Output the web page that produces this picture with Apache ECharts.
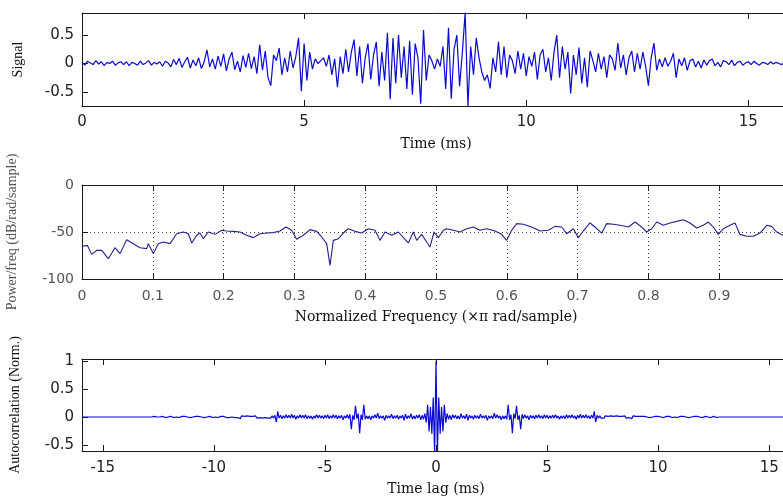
<!DOCTYPE html>
<html><head><meta charset="utf-8">
<script src="https://cdn.jsdelivr.net/npm/echarts@6/dist/echarts.min.js"></script>
<style>html,body{margin:0;padding:0;background:#fff}#c{width:783px;height:499px}</style>
</head><body><div id="c"></div>
<script>
// ---- Data ----
const signalTimeStepMs = 0.0625;
const signalValues = [
 0.02,-0.03,0.04,0.01,-0.02,0.05,-0.01,0.03,-0.04,0.02,0.00,0.04,-0.03,0.01,0.03,-0.02,
 0.03,-0.04,0.02,0.00,-0.03,0.04,-0.02,0.01,0.05,-0.03,0.02,-0.01,0.03,-0.05,0.04,0.01,
 -0.06,0.07,-0.02,0.09,-0.07,0.03,0.11,-0.08,0.06,-0.04,0.10,-0.09,0.03,0.24,-0.06,0.08,
 -0.10,0.13,-0.05,0.17,-0.13,0.08,0.20,-0.11,0.04,-0.15,0.14,-0.07,0.18,-0.09,0.12,-0.18,
 0.33,-0.12,0.22,-0.25,-0.39,0.15,0.05,0.27,-0.20,0.10,-0.15,0.22,-0.08,0.12,0.45,-0.49,
 0.35,-0.30,0.20,-0.10,0.08,0.00,0.05,0.10,-0.05,0.15,-0.20,0.08,-0.42,0.12,-0.18,0.25,
 -0.15,0.20,0.42,-0.22,0.30,-0.35,0.10,0.35,-0.28,0.15,0.38,-0.40,0.20,-0.30,0.54,-0.63,
 0.45,-0.35,0.50,-0.25,0.30,-0.45,0.40,-0.55,0.35,0.10,-0.71,0.59,-0.30,0.15,0.05,-0.10,
 0.08,-0.05,0.30,-0.45,0.63,-0.62,0.25,0.50,-0.40,0.20,0.90,-0.75,0.30,-0.20,0.45,0.10,
 -0.15,-0.30,-0.20,-0.44,0.10,-0.15,0.38,-0.20,0.30,-0.25,0.15,0.05,-0.18,0.22,-0.10,0.18,
 -0.22,0.12,-0.05,0.20,-0.28,0.15,0.25,-0.15,0.10,-0.30,0.20,0.50,-0.25,0.30,-0.10,0.20,
 -0.53,0.15,-0.20,0.28,-0.35,0.10,-0.42,0.22,0.05,-0.15,0.18,-0.10,0.12,-0.25,0.15,0.08,
 -0.12,0.36,-0.08,0.15,-0.20,0.10,0.22,-0.15,0.18,-0.10,0.20,-0.05,-0.39,0.10,0.36,-0.12,
 0.08,-0.06,0.10,-0.05,0.04,0.18,-0.25,0.08,-0.04,0.10,-0.12,0.05,0.08,-0.06,0.04,-0.08,
 0.06,-0.03,0.05,0.08,-0.04,0.02,-0.06,0.05,0.03,-0.02,0.06,-0.04,0.02,0.04,-0.03,0.01,
 0.03,-0.02,0.04,0.00,-0.03,0.02,0.01,-0.02,0.03,-0.01,0.02,0.00,-0.02,0.03,0.01,0.00
];

const psdFreq = [
 0,0.0075,0.0137,0.0207,0.0278,0.0372,0.0466,0.0537,0.0631,0.0725,0.0819,0.0913,0.0937,0.1008,0.1078,0.1149,
 0.1243,0.1337,0.1431,0.1502,0.1549,0.162,0.1667,0.1714,0.1784,0.1879,0.1973,0.2043,0.2137,0.2232,0.2326,0.242,
 0.2514,0.2608,0.2702,0.2797,0.2881,0.2961,0.3032,0.3126,0.322,0.3315,0.3385,0.3456,0.3503,0.355,0.3621,0.3691,
 0.3762,0.3856,0.395,0.4044,0.4138,0.4209,0.428,0.4374,0.4468,0.4539,0.4609,0.468,0.4727,0.4798,0.4868,0.4915,
 0.4972,0.5033,0.5104,0.5151,0.5245,0.5339,0.5433,0.5527,0.5621,0.5716,0.5833,0.5927,0.5998,0.6069,0.6139,0.6234,
 0.6351,0.6469,0.6587,0.6681,0.6775,0.6846,0.694,0.701,0.7081,0.7175,0.7246,0.734,0.7411,0.7505,0.7599,0.7717,
 0.7811,0.7905,0.7976,0.8046,0.8117,0.8211,0.8305,0.8399,0.8493,0.8588,0.8682,0.8776,0.8846,0.8917,0.8988,0.9058,
 0.9153,0.9223,0.9294,0.9388,0.9482,0.9576,0.9671,0.9741,0.9812,0.9901,1.0
];
const psdDb = [
 -65.2,-64.2,-73.8,-69.5,-69.5,-78.4,-66.7,-73.0,-58.2,-62.4,-66.7,-67.7,-62.4,-73.0,-62.4,-60.6,
 -62.4,-51.8,-50.0,-51.8,-61.7,-53.5,-51.1,-57.1,-50.0,-52.5,-48.2,-48.9,-49.3,-50.0,-53.5,-56.0,
 -51.8,-51.1,-50.7,-48.9,-44.7,-48.2,-57.8,-53.5,-47.5,-49.3,-55.3,-62.4,-85.5,-58.9,-57.1,-51.1,
 -46.5,-49.3,-51.1,-46.5,-48.2,-58.9,-50.0,-53.5,-50.0,-56.0,-61.7,-50.0,-58.9,-52.5,-60.6,-66.0,
 -50.0,-56.0,-48.2,-46.5,-48.2,-50.0,-46.5,-44.7,-48.2,-46.5,-48.9,-52.5,-58.9,-48.2,-41.1,-41.8,
 -44.7,-48.9,-48.2,-44.0,-44.7,-51.8,-46.5,-56.0,-48.9,-40.4,-44.7,-51.1,-41.1,-41.8,-42.9,-44.7,
 -39.4,-44.7,-50.0,-46.5,-39.4,-42.9,-40.4,-38.7,-36.9,-40.4,-45.7,-42.9,-39.4,-44.7,-52.5,-46.5,
 -42.9,-40.4,-52.5,-54.6,-54.6,-51.1,-42.9,-44.0,-50.0,-53.5,-52.0
];

const acfLagStepMs = 0.0625;
// autocorrelation for lags 0,1,2,... samples (the curve is symmetric about lag 0)
const acfPositiveLags = [
 1.00,-0.66,0.35,-0.30,0.18,-0.26,0.22,-0.10,0.06,-0.04,0.03,-0.05,0.04,-0.02,0.03,-0.03,
 0.02,-0.04,0.06,-0.02,0.02,-0.03,0.05,-0.06,0.03,-0.02,0.02,-0.04,0.03,-0.02,0.02,-0.03,
 0.05,-0.02,0.02,-0.02,0.03,-0.06,0.02,-0.02,0.02,-0.03,0.07,-0.02,0.04,-0.02,0.02,-0.05,
 0.02,-0.03,0.02,-0.04,0.22,-0.05,0.04,-0.29,0.06,-0.03,0.20,-0.05,0.03,-0.22,0.05,-0.03,
 0.04,-0.02,0.02,-0.05,0.03,-0.02,0.02,-0.03,0.03,-0.02,0.04,-0.02,0.02,-0.03,0.04,-0.02,
 0.03,-0.03,0.02,-0.02,0.03,-0.02,0.04,-0.02,0.02,-0.04,0.02,-0.02,0.02,-0.03,0.04,-0.02,
 0.03,-0.02,0.04,-0.02,0.02,-0.04,0.03,-0.02,0.05,-0.02,0.03,-0.02,0.04,-0.02,0.02,-0.03,
 0.03,-0.02,0.10,-0.09,0.03,-0.02,0.02,-0.02,0.01,-0.02,0.02,-0.01,0.01,-0.02,0.02,-0.01,
 0.01,-0.02,0.02,-0.01,0.01,-0.02,0.01,-0.01,0.02,-0.02,0.01,-0.01,0.02,-0.03,0.02,-0.01,
 0.01,-0.01,0.01,0.00,0.01,-0.01,0.01,-0.01,0.00,0.01,-0.01,0.01,0.00,-0.01,0.01,0.00,
 0.01,-0.01,0.00,0.01,-0.01,0.00,0.01,-0.01,0.01,0.00,-0.01,0.01,0.00,0.01,-0.01,0.00,
 0.01,-0.01,0.01,0.00,0.00,0.01,-0.01,0.01,0.00,-0.01,0.01,0.00,0.01,-0.01,0.00,0.01,
 -0.01,0.00,0.01,-0.01,0.00,0.01,-0.01,0.00,0.01,0.00,-0.01,0.01,0.00,0.00,0.00,0.00,
 0,0,0,0,0,0,0,0,0,0,0,0,0,0,0,0,
 0,0,0,0,0,0,0,0,0,0,0,0,0,0,0,0,
 0,0,0,0,0,0,0,0,0,0,0,0,0,0,0,0
];

const timeTicks = [0, 5, 10, 15];
const signalYTicks = [-0.5, 0, 0.5];
const freqTicks = [0, 0.1, 0.2, 0.3, 0.4, 0.5, 0.6, 0.7, 0.8, 0.9, 1];
const psdYTicks = [-100, -50, 0];
const lagTicks = [-15, -10, -5, 0, 5, 10, 15];
const acfYTicks = [-0.5, 0, 0.5, 1];

// ---- Build series data ----
const signalData = signalValues.map((v, i) => [i * signalTimeStepMs, v]);
const psdData = psdFreq.map((f, i) => [f, psdDb[i]]);
const nLag = acfPositiveLags.length - 1;
const acfData = [];
for (let k = -nLag; k <= nLag; k++) acfData.push([k * acfLagStepMs, acfPositiveLags[Math.abs(k)]]);
const tMax = nLag * signalTimeStepMs;

// ---- Styling helpers ----
const frame = '#1a1a1a';
const tickFont = 'DejaVu Sans';
function xAxes(g, min, max, ticks, name, o) {
  o = o || {};
  const base = {
    type: 'value', gridIndex: g, min: min, max: max,
    axisLine: { show: true, onZero: false, lineStyle: { color: frame, width: 1 } },
    axisTick: { show: true, inside: true, length: 6, customValues: ticks, lineStyle: { color: frame } },
    splitLine: { show: false }
  };
  const bottom = Object.assign({}, base, {
    position: 'bottom',
    axisLabel: { show: true, customValues: o.labels || ticks, margin: o.margin || 9, color: o.labelColor || '#222',
      fontFamily: tickFont, fontSize: o.fontSize || 15 },
    splitLine: o.grid ? { show: true, showMinLine: false, showMaxLine: false, lineStyle: { type: [1, 3], color: '#444', width: 1 } } : { show: false },
    name: name, nameLocation: 'middle', nameGap: 31,
    nameTextStyle: { fontFamily: 'DejaVu Serif', fontSize: 14, color: '#111' }
  });
  const top = Object.assign({}, base, { position: 'top', axisLabel: { show: false } });
  return [bottom, top];
}
function yAxes(g, min, max, ticks, name, o) {
  o = o || {};
  const base = {
    type: 'value', gridIndex: g, min: min, max: max,
    axisLine: { show: true, onZero: false, lineStyle: { color: frame, width: 1 } },
    axisTick: { show: true, inside: true, length: 6, customValues: ticks, lineStyle: { color: frame } },
    splitLine: { show: false }
  };
  const left = Object.assign({}, base, {
    position: 'left',
    axisLabel: { show: true, customValues: ticks, margin: 8, color: o.labelColor || '#222',
      fontFamily: tickFont, fontSize: o.fontSize || 15 },
    splitLine: o.grid ? { show: true, showMinLine: false, showMaxLine: false, lineStyle: { type: [1, 3], color: '#444', width: 1 } } : { show: false },
    name: name, nameLocation: 'middle', nameGap: o.nameGap || 57,
    nameTextStyle: { fontFamily: 'Liberation Serif', fontSize: 14, color: o.nameColor || '#111' }
  });
  const right = Object.assign({}, base, { position: 'right', axisLabel: { show: false } });
  return [left, right];
}

const chart = echarts.init(document.getElementById('c'), null, { renderer: 'canvas' });
chart.setOption({
  animation: false,
  backgroundColor: '#fff',
  grid: [
    { left: 82, top: 13, width: 708, height: 93, containLabel: false, outerBoundsMode: 'none' },
    { left: 82, top: 185, width: 708, height: 94, containLabel: false, outerBoundsMode: 'none' },
    { left: 82, top: 359, width: 708, height: 92, containLabel: false, outerBoundsMode: 'none' }
  ],
  xAxis: [].concat(
    xAxes(0, 0, tMax, timeTicks, 'Time (ms)'),
    xAxes(1, 0, 1, freqTicks, 'Normalized Frequency (\u00d7\u03c0 rad/sample)', { grid: true, labelColor: '#555', fontSize: 14, margin: 10, labels: freqTicks.slice(0, 10) }),
    xAxes(2, -tMax, tMax, lagTicks, 'Time lag (ms)', { margin: 10 })
  ),
  yAxis: [].concat(
    yAxes(0, -0.75, 0.89, signalYTicks, 'Signal'),
    yAxes(1, -100, 0, psdYTicks, 'Power/freq (dB/rad/sample)', { grid: true, labelColor: '#555', fontSize: 14, nameGap: 63, nameColor: '#555' }),
    yAxes(2, -0.61, 1.04, acfYTicks, 'Autocorrelation (Norm.)', { nameGap: 60 })
  ),
  series: [
    { type: 'line', xAxisIndex: 0, yAxisIndex: 0, data: signalData, showSymbol: false, symbol: 'none',
      lineStyle: { color: '#0a0ad0', width: 1.2 }, clip: true },
    { type: 'line', xAxisIndex: 2, yAxisIndex: 2, data: psdData, showSymbol: false, symbol: 'none',
      lineStyle: { color: '#222290', width: 1.1 }, clip: true },
    { type: 'line', xAxisIndex: 4, yAxisIndex: 4, data: acfData, showSymbol: false, symbol: 'none',
      lineStyle: { color: '#0a0ad0', width: 1.2 }, clip: true }
  ]
});
</script></body></html>
